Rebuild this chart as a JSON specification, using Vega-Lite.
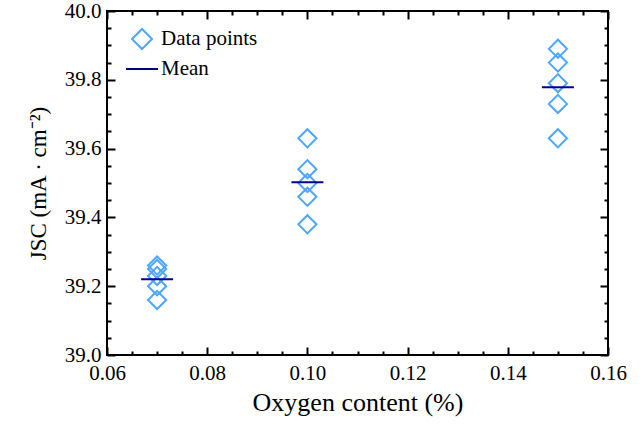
{
  "$schema": "https://vega.github.io/schema/vega-lite/v6.json",
  "width": 501,
  "height": 344,
  "autosize": {"type": "none"},
  "padding": {"left": 107, "top": 11, "right": 34, "bottom": 71},
  "background": "white",
  "config": {
    "view": {"stroke": "black", "strokeWidth": 2},
    "font": "Liberation Serif",
    "axis": {"labelColor": "black", "titleColor": "black", "titleFontWeight": "normal", "grid": false, "domain": false, "tickColor": "black", "tickWidth": 2, "labelFlush": false}
  },
  "data": {
    "values": [
      {"oxygen": 0.07, "jsc": 39.26},
      {"oxygen": 0.07, "jsc": 39.25},
      {"oxygen": 0.07, "jsc": 39.23},
      {"oxygen": 0.07, "jsc": 39.20},
      {"oxygen": 0.07, "jsc": 39.16},
      {"oxygen": 0.10, "jsc": 39.63},
      {"oxygen": 0.10, "jsc": 39.54},
      {"oxygen": 0.10, "jsc": 39.50},
      {"oxygen": 0.10, "jsc": 39.46},
      {"oxygen": 0.10, "jsc": 39.38},
      {"oxygen": 0.15, "jsc": 39.89},
      {"oxygen": 0.15, "jsc": 39.85},
      {"oxygen": 0.15, "jsc": 39.79},
      {"oxygen": 0.15, "jsc": 39.73},
      {"oxygen": 0.15, "jsc": 39.63}
    ]
  },
  "layer": [
    {
      "mark": {"type": "point", "shape": "diamond", "filled": false, "size": 330, "strokeWidth": 2, "opacity": 1},
      "encoding": {
        "x": {
          "field": "oxygen", "type": "quantitative",
          "scale": {"domain": [0.06, 0.16], "nice": false, "zero": false, "padding": 0},
          "axis": {
            "orient": "bottom",
            "values": [0.06, 0.065, 0.07, 0.075, 0.08, 0.085, 0.09, 0.095, 0.1, 0.105, 0.11, 0.115, 0.12, 0.125, 0.13, 0.135, 0.14, 0.145, 0.15, 0.155, 0.16],
            "tickSize": {"condition": {"test": "abs(datum.value*50-round(datum.value*50))<0.001", "value": -8}, "value": -4},
            "labelExpr": "abs(datum.value*50-round(datum.value*50))<0.001 ? format(datum.value,'.2f') : ''",
            "labelOverlap": false,
            "labelFontSize": 21,
            "labelPadding": 15,
            "title": "Oxygen content (%)",
            "titleFontSize": 26,
            "titlePadding": 2
          }
        },
        "y": {
          "field": "jsc", "type": "quantitative",
          "scale": {"domain": [39, 40], "nice": false, "zero": false, "padding": 0},
          "axis": {
            "orient": "left",
            "values": [39, 39.05, 39.1, 39.15, 39.2, 39.25, 39.3, 39.35, 39.4, 39.45, 39.5, 39.55, 39.6, 39.65, 39.7, 39.75, 39.8, 39.85, 39.9, 39.95, 40],
            "tickSize": {"condition": {"test": "abs(datum.value*5-round(datum.value*5))<0.001", "value": -8}, "value": -4},
            "labelExpr": "abs(datum.value*5-round(datum.value*5))<0.001 ? format(datum.value,'.1f') : ''",
            "labelOverlap": false,
            "labelFontSize": 21,
            "labelPadding": 14,
            "title": "JSC (mA · cm⁻²)",
            "titleFontSize": 23,
            "titlePadding": 14
          }
        },
        "stroke": {
          "datum": "Data points", "type": "nominal",
          "scale": {"domain": ["Data points", "Mean"], "range": ["#4DA6FF", "#00008B"]},
          "legend": {"orient": "none", "legendX": 24, "legendY": 17, "title": null, "labelFontSize": 21, "labelColor": "black", "symbolSize": 400, "symbolStrokeWidth": 2, "rowPadding": 5, "labelOffset": 8, "padding": 0}
        },
        "shape": {
          "datum": "Data points", "type": "nominal",
          "scale": {"domain": ["Data points", "Mean"], "range": ["diamond", "M-1.6,0L1.6,0"]},
          "legend": {"orient": "none", "legendX": 24, "legendY": 17, "title": null, "labelFontSize": 21, "labelColor": "black", "symbolSize": 400, "symbolStrokeWidth": 2, "rowPadding": 5, "labelOffset": 8, "padding": 0}
        }
      }
    },
    {
      "mark": {"type": "tick", "orient": "horizontal", "size": 32, "thickness": 2, "opacity": 1, "color": "#00008B"},
      "encoding": {
        "x": {
          "field": "oxygen", "type": "quantitative",
          "axis": {
            "orient": "top",
            "values": [0.06, 0.065, 0.07, 0.075, 0.08, 0.085, 0.09, 0.095, 0.1, 0.105, 0.11, 0.115, 0.12, 0.125, 0.13, 0.135, 0.14, 0.145, 0.15, 0.155, 0.16],
            "tickSize": {"condition": {"test": "abs(datum.value*50-round(datum.value*50))<0.001", "value": -8}, "value": -4},
            "labels": false,
            "title": null
          }
        },
        "y": {
          "aggregate": "mean", "field": "jsc", "type": "quantitative",
          "axis": {
            "orient": "right",
            "values": [39, 39.05, 39.1, 39.15, 39.2, 39.25, 39.3, 39.35, 39.4, 39.45, 39.5, 39.55, 39.6, 39.65, 39.7, 39.75, 39.8, 39.85, 39.9, 39.95, 40],
            "tickSize": {"condition": {"test": "abs(datum.value*5-round(datum.value*5))<0.001", "value": -8}, "value": -4},
            "labels": false,
            "title": null
          }
        }
      }
    }
  ],
  "resolve": {"axis": {"x": "independent", "y": "independent"}}
}
